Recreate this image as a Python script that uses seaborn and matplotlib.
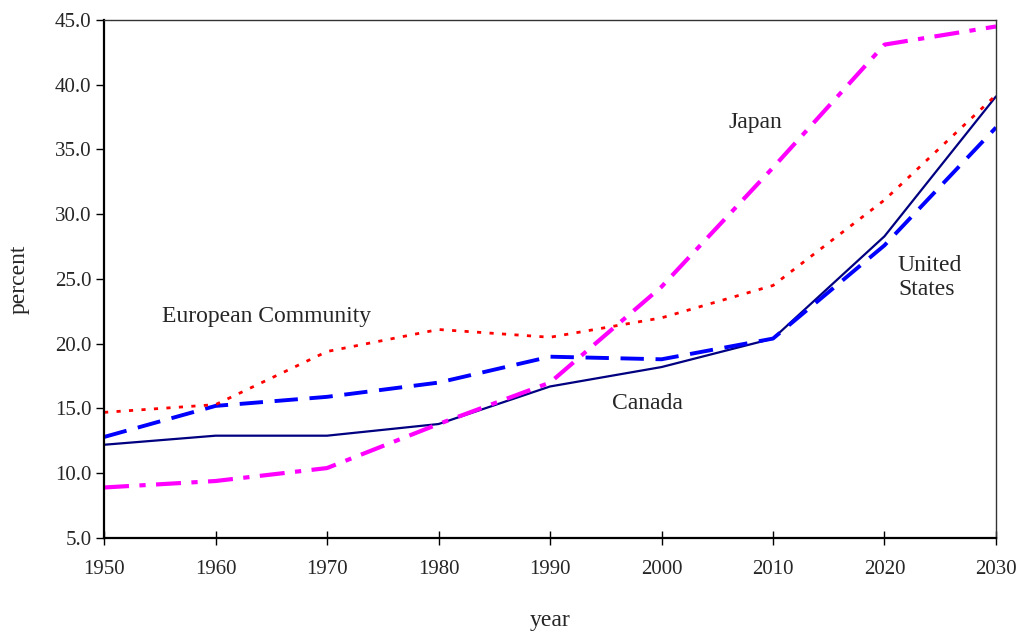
import numpy as np
import pandas as pd
import matplotlib
matplotlib.use("Agg")
import matplotlib.pyplot as plt
import seaborn as sns

years = [1950, 1960, 1970, 1980, 1990, 2000, 2010, 2020, 2030]
canada = [12.2, 12.9, 12.9, 13.8, 16.7, 18.2, 20.4, 28.3, 39.1]
united_states = [12.8, 15.2, 15.9, 17.0, 19.0, 18.8, 20.4, 27.6, 36.7]
european_community = [14.7, 15.3, 19.4, 21.1, 20.5, 22.0, 24.5, 31.1, 39.2]
japan = [8.9, 9.4, 10.4, 13.8, 17.0, 24.4, 33.6, 43.1, 44.5]

yticks = [5, 10, 15, 20, 25, 30, 35, 40, 45]

sns.set_style("white")
plt.rcParams['font.family'] = ['Liberation Serif', 'DejaVu Serif']

fig = plt.figure(figsize=(10.23, 6.31), dpi=100)
ax = fig.add_axes([0.1017, 0.1474, 0.8719, 0.8209])

## one call per series so each gets its own dash style
sns.lineplot(x=years, y=canada, ax=ax, color='#000080', linewidth=1.6)
sns.lineplot(x=years, y=united_states, ax=ax, color='#0000ff', linewidth=2.8,
             linestyle=(0, (6, 3)))
sns.lineplot(x=years, y=european_community, ax=ax, color='#ff0000', linewidth=2.0,
             linestyle=(0, (1.5, 3)))
sns.lineplot(x=years, y=japan, ax=ax, color='#ff00ff', linewidth=3.0,
             linestyle=(0, (6, 2.5, 1.5, 2.5)))

ax.set_xlim(1950, 2030)
ax.set_ylim(5, 45)
ax.set_xticks(years)
ax.set_yticks(yticks)
ax.set_yticklabels(['{:.1f}'.format(v) for v in yticks])
ax.tick_params(axis='x', bottom=True, direction='inout', length=10, width=1,
               color='black', labelsize=15, pad=11)
ax.tick_params(axis='y', left=True, direction='out', length=6, width=1,
               color='black', labelsize=15, pad=3)

for side in ['left', 'bottom']:
    ax.spines[side].set_linewidth(1.6)
    ax.spines[side].set_color('black')
for side in ['top', 'right']:
    ax.spines[side].set_linewidth(1.0)
    ax.spines[side].set_color('#333333')

ax.set_xlabel('year', fontsize=17, labelpad=22)
ax.set_ylabel('percent', fontsize=17, labelpad=18)

## series labels written on the chart
ax.text(1964.6, 22.1, 'European Community', fontsize=17, ha='center', va='center')
ax.text(1998.7, 15.35, 'Canada', fontsize=17, ha='center', va='center')
ax.text(2008.4, 37.1, 'Japan', fontsize=17, ha='center', va='center')
ax.text(2021.2, 25.1, 'United\nStates', fontsize=17, ha='left', va='center',
        linespacing=1.2)

fig.savefig('out.png', dpi=100)
